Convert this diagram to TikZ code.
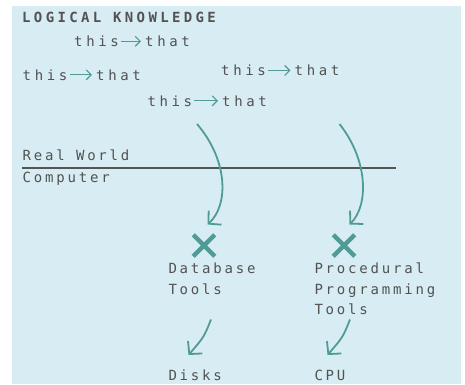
\documentclass[tikz,border=0pt]{standalone}
\usepackage{fontspec}
\usetikzlibrary{arrows.meta,shapes.misc}
\newfontfamily\labfont[LetterSpace=20]{DejaVu Sans Mono}
\newfontfamily\thisfont[LetterSpace=26]{DejaVu Sans Mono}
\newfontfamily\ttlfont[LetterSpace=24]{DejaVu Sans Mono}
\definecolor{bgc}{RGB}{216,236,243}
\definecolor{tealc}{RGB}{80,155,150}
\definecolor{txtc}{RGB}{82,82,82}
\definecolor{rulec}{RGB}{85,85,85}
\tikzset{
  lab/.style={font={\labfont\fontsize{14}{20.5}\selectfont}, text=txtc, inner sep=0pt, anchor=base west},
  mlab/.style={font={\labfont\fontsize{14}{20.5}\selectfont}, text=txtc, inner sep=0pt, anchor=north west, align=left},
  thw/.style={font={\thisfont\fontsize{14}{15}\selectfont}, text=txtc, inner sep=0pt, anchor=base west},
  ttl/.style={font={\ttlfont\bfseries\fontsize{14}{15}\selectfont}, text=txtc, inner sep=0pt, anchor=base west},
  tharrow/.style={draw=tealc, line width=1.1pt, -{Straight Barb[length=5pt,width=10pt]}},
  bigarrow/.style={draw=tealc, line width=1.8pt, -{Straight Barb[length=9pt,width=19pt]}},
  xmark/.style={cross out, draw=tealc, line width=4.5pt, minimum size=17pt, inner sep=0pt},
  rulel/.style={draw=rulec, line width=2pt}
}
\begin{document}
\begin{tikzpicture}[x=1pt,y=-1pt]
\useasboundingbox (0,0) rectangle (465,384);
\fill[bgc] (12,6) rectangle (461,384);

\node[ttl] (title) at (22,22.7) {LOGICAL KNOWLEDGE};

\node[thw] (t1) at (74,46.5) {this};
\node[thw] (h1) at (145,46.5) {that};
\node[thw] (t2) at (22.5,80) {this};
\node[thw] (h2) at (96,80) {that};
\node[thw] (t3) at (221,75.7) {this};
\node[thw] (h3) at (294.5,75.7) {that};
\node[thw] (t4) at (147.3,106) {this};
\node[thw] (h4) at (222,106) {that};
\foreach \i in {1,2,3,4}{
  \draw[tharrow, shorten <=2pt, shorten >=4pt] (t\i.east) -- (h\i.west);
}

\node[lab] (rw) at (22.5,160) {Real World};
\node[lab] (cp) at (22.5,182) {Computer};
\coordinate (L1) at (22,168.3);
\coordinate (L2) at (396,168.3);
\draw[rulel] (L1) -- (L2);

\coordinate (a1s) at (197,124);
\coordinate (a1e) at (207.5,224.5);
\coordinate (a2s) at (339.5,124);
\coordinate (a2e) at (349.5,224.5);
\draw[bigarrow] (a1s) .. controls (228,160) and (229,205) .. (a1e);
\draw[bigarrow] (a2s) .. controls (368,160) and (369,205) .. (a2e);

\node[xmark] (x1) at (204,245.5) {};
\node[xmark] (x2) at (344,245.5) {};

\node[mlab] (db) at (168.3,263) {Database\\Tools};
\node[mlab] (pp) at (314.3,263) {Procedural\\Programming\\Tools};

\coordinate (b1s) at (211,319.5);
\coordinate (b1e) at (188.5,355);
\coordinate (b2s) at (350,319.5);
\coordinate (b2e) at (327.5,355);
\draw[bigarrow] (b1s) .. controls (204,337) .. (b1e);
\draw[bigarrow] (b2s) .. controls (343,337) .. (b2e);

\node[lab] (dk) at (168.3,380.5) {Disks};
\node[lab] (cpu) at (314.3,380.5) {CPU};
\end{tikzpicture}
\end{document}
